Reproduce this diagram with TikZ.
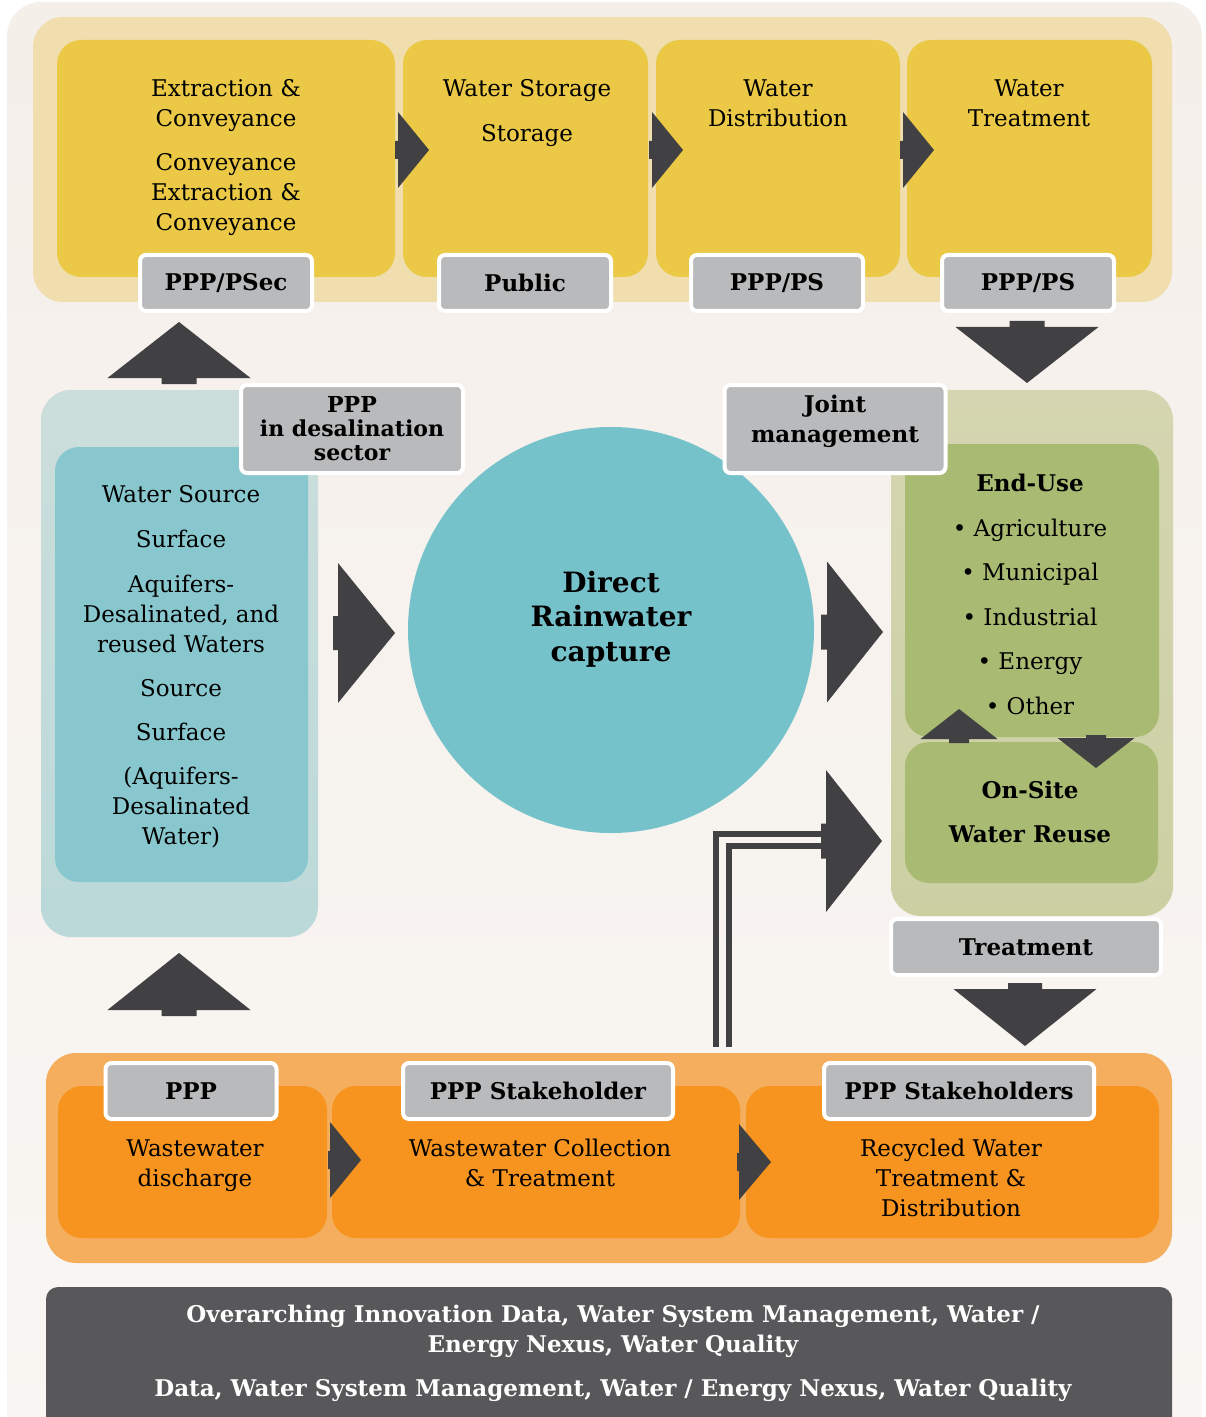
\documentclass[tikz,border=0pt]{standalone}
\usepackage{fontspec}
\setmainfont{DejaVu Serif}

\definecolor{bgtop}{HTML}{F5EFEA}
\definecolor{bgbot}{HTML}{F9F6F3}
\definecolor{tanband}{HTML}{F0DEAE}
\definecolor{yellowbox}{HTML}{EBC946}
\definecolor{arrowgray}{HTML}{414042}
\definecolor{taggray}{HTML}{B9BABC}
\definecolor{tealtop}{HTML}{CCDEDB}
\definecolor{tealbot}{HTML}{BBD9D9}
\definecolor{tealbox}{HTML}{88C7CE}
\definecolor{circlecol}{HTML}{76C2CB}
\definecolor{greentop}{HTML}{D5D6B1}
\definecolor{greenbot}{HTML}{CBD0A3}
\definecolor{greenbox}{HTML}{A9BB72}
\definecolor{orangeband}{HTML}{F4AE5D}
\definecolor{orangebox}{HTML}{F6941F}
\definecolor{darkbox}{HTML}{58585A}

% block arrow: base point, angle, stem length, stem half width, head length, head half width
\newcommand{\blockarrow}[6]{%
  \fill[arrowgray, shift={#1}, rotate=#2]
    (-#3,-#4) rectangle (0,#4)
    (0,-#6) -- (#5,0) -- (0,#6) -- cycle;}

\begin{document}
\begin{tikzpicture}[x=0.5pt,y=-0.5pt,
  panel/.style={rounded corners=15pt},
  box/.style={rounded corners=12pt},
  tag/.style={draw=white, line width=2pt, fill=taggray, rounded corners=3pt,
    font=\bfseries\fontsize{11.5}{15}\selectfont, align=center, inner sep=0pt},
  txt/.style={font=\fontsize{11.5}{15}\selectfont, align=center, inner sep=0pt, anchor=north},
  pipe/.style={draw=arrowgray, line width=3pt}]
  \useasboundingbox (0,0) rectangle (1205,1417);
  \clip (0,0) rectangle (1205,1417);
  % background sheet
  \path[top color=bgtop, bottom color=bgbot, rounded corners=17pt] (7,2) rectangle (1202,1460);

  % supply chain along the top
  \fill[tanband, panel] (33,17) rectangle (1172,302);
  \fill[yellowbox, box] (57,40) rectangle (395,277);
  \fill[yellowbox, box] (403,40) rectangle (648,277);
  \fill[yellowbox, box] (656,40) rectangle (900,277);
  \fill[yellowbox, box] (907,40) rectangle (1152,277);
  \node[txt] (extr) at (226,79) {Extraction \&\\Conveyance\\[7pt]Conveyance\\Extraction \&\\Conveyance};
  \node[txt] (stor) at (527,79) {Water Storage\\[7.5pt]Storage};
  \node[txt] (distr) at (778,79) {Water\\Distribution};
  \node[txt] (wtreat) at (1029,79) {Water\\Treatment};
  \blockarrow{(398,150)}{0}{3}{9}{31}{38}
  \blockarrow{(652,150)}{0}{3}{9}{31}{38}
  \blockarrow{(903,150)}{0}{3}{9}{31}{38}
  \node[tag, minimum width=86pt, minimum height=28pt] (psec) at (226,283) {PPP/PSec};
  \node[tag, minimum width=86pt, minimum height=28pt] (public) at (525,283) {Public};
  \node[tag, minimum width=86pt, minimum height=28pt] (ppsa) at (777,283) {PPP/PS};
  \node[tag, minimum width=86pt, minimum height=28pt] (ppsb) at (1028,283) {PPP/PS};

  % water sources on the left
  \path[panel, top color=tealtop, bottom color=tealbot] (41,390) rectangle (318,937);
  \fill[tealbox, box] (55,447) rectangle (308,882);
  \node[txt] (source) at (181,485) {Water Source\\[7.5pt]Surface\\[7.5pt]Aquifers-\\Desalinated, and\\reused Waters\\[7pt]Source\\[7pt]Surface\\[7pt](Aquifers-\\Desalinated\\Water)};
  \node[tag, minimum width=111pt, minimum height=44pt, font=\bfseries\fontsize{11}{12}\selectfont] (desal) at (352,429) {PPP\\in desalination\\sector};
  \blockarrow{(179,378)}{90}{6}{17.5}{56}{71.5}
  \blockarrow{(179,1010)}{90}{6}{17.5}{57}{71.5}

  % rainwater capture
  \node[circle, fill=circlecol, minimum size=203pt, inner sep=0pt] (rain) at (611,630) {};
  \node[font=\bfseries\fontsize{14}{17.25}\selectfont, align=center] (raintxt) at (611,619) {Direct\\Rainwater\\capture};
  \blockarrow{(338,633)}{0}{5}{17}{57}{70}
  \blockarrow{(827,632)}{0}{6}{17.5}{56}{70.5}

  % end use and on-site reuse on the right
  \path[panel, top color=greentop, bottom color=greenbot] (891,390) rectangle (1173,916);
  \fill[greenbox, box] (905,444) rectangle (1159,737);
  \fill[greenbox, box] (905,742) rectangle (1158,883);
  \node[txt] (enduse) at (1030,474) {\textbf{End-Use}\\[7.25pt]\textbullet\ Agriculture\\[7.25pt]\textbullet\ Municipal\\[7.25pt]\textbullet\ Industrial\\[7.25pt]\textbullet\ Energy\\[7.25pt]\textbullet\ Other};
  \node[txt, font=\bfseries\fontsize{11.5}{15}\selectfont] (onsite) at (1030,781) {On-Site\\[7pt]Water Reuse};
  \node[tag, minimum width=110.5pt, minimum height=44pt] (joint) at (835,429) {};
  \node[font=\bfseries\fontsize{11.5}{15}\selectfont, align=center, inner sep=0pt] (jointtxt) at (835,421) {Joint\\management};
  \node[tag, minimum width=135pt, minimum height=28pt] (treat) at (1026,947) {Treatment};
  \blockarrow{(1027,327)}{-90}{6}{17.5}{56}{71.5}
  \blockarrow{(1025,989)}{-90}{6}{17}{57}{71.5}
  \blockarrow{(959,739)}{90}{4}{10}{30}{38.5}
  \blockarrow{(1096,738)}{-90}{3}{10}{30}{38.5}

  % recycled water back up to on-site reuse
  \coordinate (pipeA) at (716,1047);
  \coordinate (pipeB) at (729,1047);
  \coordinate (pipeAend) at (822,834);
  \coordinate (pipeBend) at (822,846);
  \draw[pipe] (pipeA) |- (pipeAend);
  \draw[pipe] (pipeB) |- (pipeBend);
  \blockarrow{(826,841)}{0}{5}{17.5}{56}{71}

  % wastewater chain along the bottom
  \fill[orangeband, panel] (46,1053) rectangle (1172,1263);
  \fill[orangebox, box] (58,1086) rectangle (327,1238);
  \fill[orangebox, box] (332,1086) rectangle (740,1238);
  \fill[orangebox, box] (746,1086) rectangle (1159,1238);
  \node[txt] (wdis) at (195,1139) {Wastewater\\discharge};
  \node[txt] (wcol) at (540,1139) {Wastewater Collection\\\& Treatment};
  \node[txt] (recyc) at (951,1139) {Recycled Water\\Treatment \&\\Distribution};
  \blockarrow{(330,1160)}{0}{2}{9}{31}{38}
  \blockarrow{(739,1162)}{0}{2}{9}{32}{38}
  \node[tag, minimum width=85.5pt, minimum height=28pt] (ppp) at (191,1091) {PPP};
  \node[tag, minimum width=135pt, minimum height=28pt] (stake) at (538,1091) {PPP Stakeholder};
  \node[tag, minimum width=135pt, minimum height=28pt] (stakes) at (959,1091) {PPP Stakeholders};

  % overarching innovation bar
  \fill[darkbox, rounded corners=6pt] (46,1287) rectangle (1172,1460);
  \node[txt, text=white, font=\bfseries\fontsize{11.5}{15}\selectfont] (innov) at (613,1305) {Overarching Innovation Data, Water System Management, Water /\\Energy Nexus, Water Quality\\[7pt]Data, Water System Management, Water / Energy Nexus, Water Quality};
\end{tikzpicture}
\end{document}
